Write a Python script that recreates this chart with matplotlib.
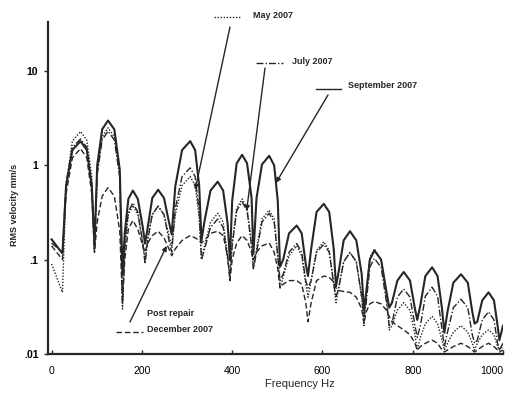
import matplotlib
matplotlib.use("Agg")
import matplotlib.pyplot as plt
from matplotlib.lines import Line2D

# shared frequency grid: start, first dip, then per lobe
# (low left flank, high left flank, peak, high right flank, low right flank, trough)
freq_hz = [
    0, 24,
    32, 46, 64, 78, 89, 95,
    101, 112, 125, 139, 151, 157,
    162, 170, 180, 191, 202, 207,
    213, 223, 236, 249, 260, 266,
    274, 289, 307, 318, 327, 332,
    339, 352, 368, 380, 390, 395,
    400, 410, 422, 433, 443, 447,
    454, 466, 482, 493, 501, 506,
    513, 526, 543, 554, 563, 568,
    575, 587, 603, 615, 625, 630,
    636, 647, 661, 675, 687, 692,
    697, 705, 715, 730, 742, 748,
    754, 766, 780, 794, 805, 810,
    817, 828, 843, 855, 865, 870,
    877, 890, 907, 922, 932, 937,
    943, 954, 968, 980, 988, 992,
    1000,
]

sept_2007 = [
    0.164, 0.116,
    0.6, 1.45, 1.8, 1.45, 0.6, 0.141,
    1.0, 2.4, 2.98, 2.4, 0.9, 0.07,
    0.19, 0.44, 0.54, 0.44, 0.22, 0.148,
    0.22, 0.45, 0.55, 0.45, 0.25, 0.185,
    0.6, 1.45, 1.8, 1.45, 0.6, 0.16,
    0.26, 0.54, 0.67, 0.54, 0.24, 0.099,
    0.42, 1.05, 1.29, 1.05, 0.45, 0.115,
    0.45, 1.02, 1.26, 1.0, 0.42, 0.084,
    0.1, 0.19, 0.23, 0.19, 0.09, 0.067,
    0.13, 0.32, 0.39, 0.32, 0.13, 0.052,
    0.075, 0.16, 0.2, 0.16, 0.07, 0.029,
    0.045, 0.1, 0.125, 0.1, 0.045, 0.031,
    0.035, 0.06, 0.074, 0.06, 0.03, 0.023,
    0.033, 0.067, 0.083, 0.067, 0.03, 0.0168,
    0.028, 0.057, 0.07, 0.057, 0.028, 0.021,
    0.022, 0.037, 0.045, 0.037, 0.02, 0.014,
    0.02,
]

july_2007 = [
    0.15, 0.12,
    0.65, 1.55, 1.9, 1.55, 0.6, 0.12,
    0.8, 1.85, 2.3, 1.85, 0.75, 0.035,
    0.15, 0.32, 0.4, 0.32, 0.15, 0.09,
    0.16, 0.3, 0.37, 0.3, 0.16, 0.12,
    0.35, 0.76, 0.94, 0.76, 0.32, 0.10,
    0.13, 0.22, 0.27, 0.22, 0.1, 0.07,
    0.14, 0.33, 0.41, 0.33, 0.14, 0.08,
    0.12, 0.25, 0.31, 0.25, 0.11, 0.06,
    0.07, 0.12, 0.148, 0.12, 0.06, 0.05,
    0.06, 0.12, 0.145, 0.12, 0.055, 0.04,
    0.05, 0.095, 0.119, 0.095, 0.04, 0.025,
    0.035, 0.083, 0.103, 0.083, 0.035, 0.02,
    0.021, 0.04, 0.049, 0.04, 0.02, 0.015,
    0.02, 0.041, 0.051, 0.041, 0.018, 0.012,
    0.017, 0.031, 0.038, 0.031, 0.016, 0.013,
    0.014, 0.023, 0.028, 0.023, 0.013, 0.011,
    0.013,
]

may_2007 = [
    0.09, 0.045,
    0.6, 1.8, 2.28, 1.85, 0.75, 0.13,
    0.85, 2.0, 2.5, 2.0, 0.8, 0.03,
    0.12, 0.3, 0.375, 0.3, 0.15, 0.10,
    0.17, 0.3, 0.367, 0.3, 0.18, 0.14,
    0.3, 0.61, 0.76, 0.61, 0.28, 0.10,
    0.14, 0.25, 0.31, 0.25, 0.11, 0.06,
    0.15, 0.35, 0.44, 0.35, 0.15, 0.08,
    0.13, 0.27, 0.335, 0.27, 0.11, 0.05,
    0.065, 0.11, 0.14, 0.11, 0.055, 0.04,
    0.06, 0.125, 0.155, 0.125, 0.055, 0.035,
    0.05, 0.095, 0.119, 0.095, 0.04, 0.02,
    0.045, 0.105, 0.13, 0.1, 0.04, 0.018,
    0.02, 0.029, 0.035, 0.029, 0.016, 0.011,
    0.015, 0.021, 0.025, 0.021, 0.014, 0.011,
    0.013, 0.017, 0.02, 0.017, 0.013, 0.011,
    0.013, 0.016, 0.018, 0.016, 0.012, 0.011,
    0.012,
]

dec_2007 = [
    0.14, 0.10,
    0.5, 1.2, 1.5, 1.2, 0.5, 0.12,
    0.25, 0.47, 0.58, 0.47, 0.2, 0.035,
    0.1, 0.21, 0.26, 0.21, 0.14, 0.12,
    0.15, 0.18, 0.2, 0.17, 0.13, 0.11,
    0.13, 0.16, 0.18, 0.17, 0.16, 0.15,
    0.16, 0.19, 0.2, 0.18, 0.11, 0.06,
    0.1, 0.15, 0.18, 0.16, 0.12, 0.10,
    0.12, 0.14, 0.15, 0.12, 0.08, 0.05,
    0.055, 0.06, 0.06, 0.055, 0.035, 0.022,
    0.035, 0.06, 0.067, 0.065, 0.058, 0.05,
    0.047, 0.046, 0.045, 0.04, 0.03, 0.021,
    0.028, 0.034, 0.036, 0.034, 0.029, 0.025,
    0.022, 0.02, 0.018, 0.016, 0.013, 0.011,
    0.012, 0.013, 0.014, 0.013, 0.011, 0.0105,
    0.011, 0.012, 0.013, 0.012, 0.011, 0.0105,
    0.011, 0.012, 0.013, 0.012, 0.011, 0.0105,
    0.011,
]

x_ticks = [0, 200, 400, 600, 800, 1000]
y_ticks = [0.01, 0.1, 1, 10]
y_tick_labels = [".01", ".1", "1", "10"]

W, H = 507, 398
INK = "#262626"
FONT = ["Liberation Sans Narrow", "Liberation Sans", "DejaVu Sans"]
DOT = (0, (1, 1.2))
DASHDOT = (0, (5, 1.5, 1, 1.5))
DASH = (0, (4, 2))


def px(x, y):
    # image pixel (top-left origin) -> figure fraction
    return x / W, 1 - y / H


fig = plt.figure(figsize=(W / 100, H / 100), dpi=100)
ax = fig.add_axes([48 / W, 1 - 354 / H, 455 / W, (354 - 22) / H])

ax.plot(freq_hz, may_2007, color=INK, lw=1.0, ls=DOT)
ax.plot(freq_hz, july_2007, color=INK, lw=1.0, ls=DASHDOT)
ax.plot(freq_hz, dec_2007, color=INK, lw=1.0, ls=DASH)
ax.plot(freq_hz, sept_2007, color=INK, lw=1.5, ls="-")

ax.set_yscale("log")
ax.set_xlim(-8, 1000)
ax.set_ylim(0.01, 33)
ax.set_xticks(x_ticks)
ax.set_xticklabels([str(t) for t in x_ticks], fontsize=7.5, family=FONT)
ax.get_xticklabels()[-1].set_horizontalalignment("right")
ax.set_yticks(y_ticks)
ax.set_yticklabels(y_tick_labels, fontsize=7.5, fontweight="bold", family=FONT)
ax.minorticks_off()
ax.tick_params(axis="both", length=3, width=1, color=INK, pad=4)
ax.tick_params(axis="x", direction="in", pad=9)
for side in ("top", "right"):
    ax.spines[side].set_visible(False)
for side in ("left", "bottom"):
    ax.spines[side].set_linewidth(1.6)
    ax.spines[side].set_color(INK)
ax.spines["bottom"].set_clip_on(False)

fig.text(*px(15, 205), "RMS velocity mm/s", rotation=90, ha="center", va="center",
         fontsize=6.5, fontweight="bold", family=FONT, color=INK)
fig.text(*px(300, 384), "Frequency Hz", ha="center", va="center",
         fontsize=8, family=FONT, color=INK)

# callout labels: (text, text pos, sample line, line style, arrow tail, arrow tip in data)
callouts = [
    ("May 2007", (253, 15), (214, 241, 17), DOT, (230, 27), (318, 0.55)),
    ("July 2007", (292, 61), (256, 283, 63), DASHDOT, (265, 68), (432, 0.33)),
    ("September 2007", (348, 85), (316, 341, 89), "-", (328, 95), (497, 0.65)),
]
for label, (tx, ty), (lx0, lx1, ly), ls, tail, tip in callouts:
    fig.text(*px(tx, ty), label, ha="left", va="center", fontsize=6.5,
             fontweight="bold", family=FONT, color=INK)
    fig.add_artist(Line2D([lx0 / W, lx1 / W], [1 - ly / H, 1 - ly / H],
                          transform=fig.transFigure, color=INK, lw=1.0, ls=ls))
    ax.annotate("", xy=tip, xycoords="data", xytext=px(*tail), textcoords="figure fraction",
                arrowprops=dict(arrowstyle="-|>", color=INK, lw=1.0, shrinkA=0, shrinkB=0,
                                mutation_scale=7))

fig.text(*px(147, 314), "Post repair", ha="left", va="center", fontsize=6.5,
         fontweight="bold", family=FONT, color=INK)
fig.text(*px(147, 330), "December 2007", ha="left", va="center", fontsize=6.5,
         fontweight="bold", family=FONT, color=INK)
fig.add_artist(Line2D([116 / W, 143 / W], [1 - 332 / H, 1 - 332 / H],
                      transform=fig.transFigure, color=INK, lw=1.0, ls=DASH))
ax.annotate("", xy=(255, 0.14), xycoords="data", xytext=px(130, 322), textcoords="figure fraction",
            arrowprops=dict(arrowstyle="-|>", color=INK, lw=1.0, shrinkA=0, shrinkB=0,
                            mutation_scale=7))

fig.savefig("out.png", dpi=100, facecolor="white")
